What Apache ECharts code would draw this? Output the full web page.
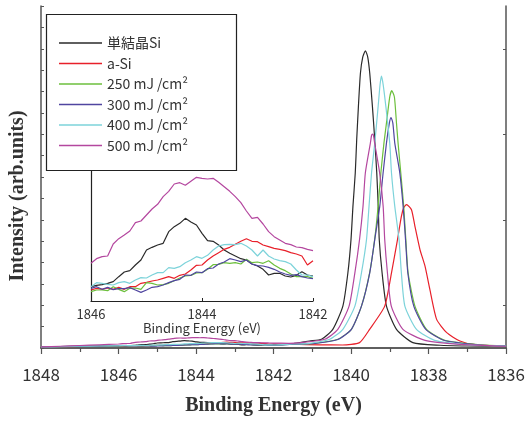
<!DOCTYPE html>
<html><head><meta charset="utf-8">
<script src="https://cdn.jsdelivr.net/npm/echarts@6/dist/echarts.min.js"></script>
<style>html,body{margin:0;padding:0;background:#fff}#c{width:528px;height:421px}</style>
</head><body><div id="c"></div>
<script>
// ---- data (energy in eV, intensity in arb. units) ----
const seriesNames = ['単結晶Si', 'a-Si', '250 mJ /cm²', '300 mJ /cm²', '400 mJ /cm²', '500 mJ /cm²'];
const seriesColors = ['#2a2a2a', '#e8202a', '#6cbf3c', '#5046a0', '#7dd3da', '#b4479f'];

const energyTail = [1848, 1847.5, 1847, 1846.5];
const energyInset = [1846.0, 1845.9, 1845.8, 1845.7, 1845.6, 1845.5, 1845.4, 1845.3, 1845.2, 1845.1,
  1845.0, 1844.9, 1844.8, 1844.7, 1844.6, 1844.5, 1844.4, 1844.3, 1844.2, 1844.1,
  1844.0, 1843.9, 1843.8, 1843.7, 1843.6, 1843.5, 1843.4, 1843.3, 1843.2, 1843.1,
  1843.0, 1842.9, 1842.8, 1842.7, 1842.6, 1842.5, 1842.4, 1842.3, 1842.2, 1842.1, 1842.0];

const singleTail = [40, 55, 70, 80];
const singleInset = [90,94,96,100,105,120,134,138,155,170,200,208,215,220,255,270,280,295,284,275,250,228,226,215,200,190,182,174,170,158,152,142,125,130,130,122,119,124,135,125,122];
const singlePeak = [[1841.5,170],[1841.07,281],[1840.76,350],[1840.47,750],[1840.21,1685],[1840.08,3026],[1840.0,4362],[1839.95,5698],[1839.89,7039],[1839.853,8375],[1839.809,9711],[1839.757,11052],[1839.697,11706],[1839.628,11959],[1839.568,11706],[1839.516,11052],[1839.447,9711],[1839.387,8375],[1839.335,7039],[1839.297,5698],[1839.271,4362],[1839.198,3026],[1839.085,1685],[1838.826,750],[1838.404,217],[1837.7,110],[1837,80],[1836,60]];

const aSiTail = [40, 50, 65, 75];
const aSiInset = [80,85,82,86,82,88,82,90,90,100,103,107,110,115,120,115,124,128,140,154,155,170,182,192,202,208,217,226,234,226,225,215,210,205,202,198,192,188,182,155,168];
const aSiPeak = [[1841.5,150],[1840.81,128],[1840.22,120],[1839.78,217],[1839.52,750],[1839.13,1685],[1838.955,3026],[1838.80,4362],[1838.70,5297],[1838.64,5646],[1838.567,5767],[1838.44,5566],[1838.35,4896],[1838.22,3961],[1838.09,3291],[1837.965,2356],[1837.79,1152],[1837.53,618],[1837.19,281],[1836.85,148],[1836,68]];

const mj250Tail = [40, 50, 60, 70];
const mj250Inset = [75,80,80,78,90,82,75,85,86,82,102,100,95,96,100,108,116,122,124,131,132,142,156,157,162,160,162,158,172,162,164,160,168,155,145,138,128,120,120,120,115];
const mj250Peak = [[1841.5,150],[1840.94,189],[1840.34,350],[1839.99,750],[1839.73,1685],[1839.52,3026],[1839.39,4362],[1839.30,5698],[1839.23,7039],[1839.15,8243],[1839.085,9045],[1839.0,10100],[1838.948,10354],[1838.88,10100],[1838.826,9045],[1838.785,8243],[1838.715,7039],[1838.64,5698],[1838.585,4362],[1838.526,3026],[1838.35,1685],[1838.05,750],[1837.58,309],[1836.67,128],[1836,90]];

const mj300Tail = [40, 50, 65, 75];
const mj300Inset = [85,90,82,88,81,84,84,87,80,73,80,88,90,95,102,108,112,125,124,134,132,144,146,158,164,174,170,165,170,158,153,152,148,142,134,128,124,126,120,116,114];
const mj300Peak = [[1841.5,150],[1840.94,180],[1840.34,340],[1839.99,750],[1839.73,1685],[1839.516,3026],[1839.387,4362],[1839.258,5698],[1839.172,7039],[1839.085,8243],[1839.01,9050],[1838.966,9270],[1838.92,9050],[1838.87,8243],[1838.74,7039],[1838.655,5698],[1838.593,4362],[1838.534,3026],[1838.38,1685],[1838.07,750],[1837.58,300],[1836.67,120],[1836,85]];

const mj400Tail = [40, 55, 70, 80];
const mj400Inset = [90,102,100,97,95,102,105,100,110,117,116,125,132,132,147,145,150,162,170,180,175,184,200,212,216,217,216,220,212,200,182,200,182,173,168,165,158,140,125,125,120];
const mj400Peak = [[1841.5,160],[1841.07,189],[1840.55,350],[1840.21,750],[1839.90,1685],[1839.73,3026],[1839.60,4362],[1839.535,5698],[1839.47,7039],[1839.387,8243],[1839.30,9711],[1839.25,10600],[1839.214,10944],[1839.17,10600],[1839.10,9711],[1839.0,8243],[1838.955,7039],[1838.87,5698],[1838.76,4362],[1838.70,3026],[1838.61,1685],[1838.31,750],[1837.84,309],[1836.93,128],[1836,80]];

const mj500Tail = [45, 70, 100, 130];
const mj500Inset = [160,174,180,182,218,234,245,257,282,287,305,323,337,360,376,398,402,394,406,418,415,413,415,403,390,376,360,342,317,295,298,278,255,240,230,220,216,209,207,202,198];
const mj500Peak = [[1841.6,190],[1841.33,209],[1840.68,350],[1840.34,750],[1840.05,1685],[1839.90,3026],[1839.78,4362],[1839.69,5698],[1839.63,7039],[1839.50,8243],[1839.47,8550],[1839.447,8604],[1839.42,8550],[1839.39,8243],[1839.26,7039],[1839.17,5698],[1839.13,4362],[1839.06,3026],[1838.96,1685],[1838.66,750],[1838.09,309],[1837.19,148],[1836,70]];

const mainTicksX = [1848, 1846, 1844, 1842, 1840, 1838, 1836];
const insetTicksX = [1846, 1844, 1842];

// ---- assemble ----
const tails = [singleTail, aSiTail, mj250Tail, mj300Tail, mj400Tail, mj500Tail];
const insets = [singleInset, aSiInset, mj250Inset, mj300Inset, mj400Inset, mj500Inset];
const peaks = [singlePeak, aSiPeak, mj250Peak, mj300Peak, mj400Peak, mj500Peak];

function pairs(xs, ys) { return ys.map((v, i) => [xs[i], v]); }

const series = [];
seriesNames.forEach((name, k) => {
  const full = pairs(energyTail, tails[k]).concat(pairs(energyInset, insets[k]), peaks[k]);
  series.push({
    name, type: 'line', xAxisIndex: 0, yAxisIndex: 0, data: full,
    symbol: 'none', smooth: 0.2, lineStyle: { width: 1.2, color: seriesColors[k] },
    itemStyle: { color: seriesColors[k] }, z: 2
  });
});
seriesNames.forEach((name, k) => {
  series.push({
    name, type: 'line', xAxisIndex: 2, yAxisIndex: 2, data: pairs(energyInset, insets[k]),
    symbol: 'none', lineStyle: { width: 1.2, color: seriesColors[k] },
    itemStyle: { color: seriesColors[k] }, z: 2
  });
});

const sans = '"Noto Sans CJK JP", "Noto Sans", sans-serif';
const serif = '"Liberation Serif", "DejaVu Serif", serif';
const frame = { show: true, lineStyle: { color: '#555', width: 1.5 } };

const chart = echarts.init(document.getElementById('c'), null, { renderer: 'canvas' });
chart.setOption({
  animation: false,
  backgroundColor: '#fff',
  grid: [
    { left: 41, right: 22, top: 6, bottom: 72 },
    { left: 91, right: 215, top: 150, bottom: 120 }
  ],
  xAxis: [
    { type: 'value', gridIndex: 0, min: 1836, max: 1848, interval: 2, inverse: true, position: 'bottom',
      axisLine: frame, axisTick: { show: true, inside: false, length: 6, lineStyle: { color: '#555', width: 1.2 } },
      minorTick: { show: true, splitNumber: 2, length: 4, lineStyle: { color: '#555', width: 1.2 } },
      splitLine: { show: false }, minorSplitLine: { show: false },
      axisLabel: { fontSize: 17, color: '#333', fontFamily: sans, margin: 18,
        customValues: mainTicksX, formatter: v => String(v) },
      name: 'Binding Energy (eV)', nameLocation: 'middle', nameGap: 48,
      nameTextStyle: { fontFamily: serif, fontWeight: 'bold', fontSize: 20, color: '#333' } },
    { type: 'value', gridIndex: 0, min: 1836, max: 1848, inverse: true, position: 'top',
      axisLine: frame, axisTick: { show: false }, axisLabel: { show: false }, splitLine: { show: false } },
    { type: 'value', gridIndex: 1, min: 1842, max: 1846, interval: 2, inverse: true, position: 'bottom',
      axisLine: { show: true, lineStyle: { color: '#222', width: 1.2 } },
      axisTick: { show: true, inside: true, length: 3, lineStyle: { color: '#222' } },
      splitLine: { show: false },
      axisLabel: { fontSize: 13, color: '#333', fontFamily: sans, margin: 7,
        customValues: insetTicksX, formatter: v => String(v) },
      name: 'Binding Energy (eV)', nameLocation: 'middle', nameGap: 21,
      nameTextStyle: { fontFamily: sans, fontSize: 13, color: '#333' } }
  ],
  yAxis: [
    { type: 'value', gridIndex: 0, min: 0, max: 13760, interval: 860, position: 'left',
      axisLine: frame, axisTick: { show: true, inside: true, length: 3, lineStyle: { color: '#555' } },
      axisLabel: { show: false }, splitLine: { show: false } },
    { type: 'value', gridIndex: 0, min: 0, max: 13760, position: 'right',
      axisLine: frame, axisTick: { show: true, inside: true, length: 3, lineStyle: { color: '#555' },
        customValues: [1720, 5160, 8600, 12040] },
      axisLabel: { show: false }, splitLine: { show: false } },
    { type: 'value', gridIndex: 1, min: 47, max: 500, position: 'left',
      axisLine: { show: true, lineStyle: { color: '#222', width: 1.2 } }, axisTick: { show: false },
      axisLabel: { show: false }, splitLine: { show: false } }
  ],
  legend: {
    data: seriesNames.map(n => ({ name: n, icon: 'rect' })), orient: 'vertical', left: 46, top: 14,
    padding: [22, 10, 19, 13], itemGap: 6.5, itemWidth: 43, itemHeight: 1.4,
    textStyle: { fontFamily: sans, fontSize: 14, color: '#333', lineHeight: 14 }, z: 6
  },
  graphic: [
    { type: 'rect', z: 4, shape: { x: 46.5, y: 14.5, width: 190, height: 156 },
      style: { fill: '#fff', stroke: '#222', lineWidth: 1.2 } },
    { type: 'text', z: 4, x: 17.5, y: 196, rotation: Math.PI / 2,
      style: { text: 'Intensity (arb.units)', font: 'bold 20px ' + serif, fill: '#333',
        textAlign: 'center', textVerticalAlign: 'middle' } }
  ],
  series
});
</script></body></html>
